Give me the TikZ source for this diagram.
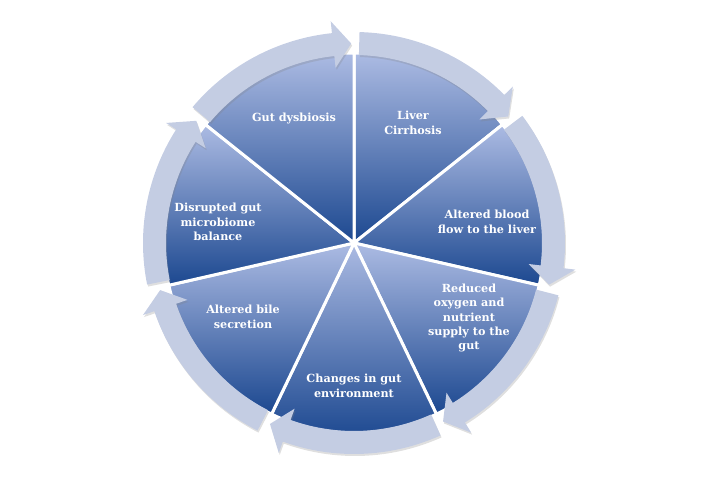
\documentclass[tikz,border=0pt]{standalone}
\usepackage{fontspec}
\usepackage{tikz}
\usetikzlibrary{shadows}
\newfontfamily\labelfont{DejaVu Serif}
\definecolor{sectortop}{RGB}{172,187,227}
\definecolor{sectorbottom}{RGB}{28,72,144}
\definecolor{ringfill}{RGB}{196,205,227}
\tikzset{
sector/.style={top color=sectortop, bottom color=sectorbottom, draw=white, line width=3pt, line join=round}, % pie pieces
ring arrow/.style={fill=ringfill, drop shadow={opacity=0.25, shadow xshift=1pt, shadow yshift=-2pt}}, % curved arrows round the pie
label/.style={text=white, font=\labelfont\bfseries\fontsize{11.2}{14.4}\selectfont, align=center}, % texts in the pieces
}
% curved arrow from angle #1 clockwise to angle #2
\newcommand{\cyclearrow}[2]{%
  \path[ring arrow] (#1-1.5:188pt) -- (#1-1.5:211pt)
    arc[start angle=#1-1.5, end angle=#2+6, radius=211pt]
    -- (#2+6:223pt) -- (#2+0.8:199.5pt) -- (#2+6:176pt) -- (#2+6:188pt)
    arc[start angle=#2+6, end angle=#1-1.5, radius=188pt] -- cycle;}

\begin{document}
\begin{tikzpicture}[x=1pt, y=1pt]
    \useasboundingbox (-354,-254) rectangle (352,243);
    \foreach \i in {0,...,6} {
      \pgfmathsetmacro{\a}{90-\i*360/7}
      \pgfmathsetmacro{\b}{90-(\i+1)*360/7}
      \shadedraw[sector] (0,0) -- (\a:190pt) arc[start angle=\a, end angle=\b, radius=190pt] -- cycle;
    }
    \foreach \i in {0,...,6} {
      \pgfmathsetmacro{\a}{90-\i*360/7}
      \pgfmathsetmacro{\b}{90-(\i+1)*360/7}
      \cyclearrow{\a}{\b}
    }
    \node[label] (cirrhosis) at (59,120) {Liver\\Cirrhosis};
    \node[label] (bloodflow) at (133,21) {Altered blood\\flow to the liver};
    \node[label] (oxygen) at (115,-75) {Reduced\\oxygen and\\nutrient\\supply to the\\gut};
    \node[label] (environment) at (0,-143) {Changes in gut\\environment};
    \node[label] (bile) at (-111,-74) {Altered bile\\secretion};
    \node[label] (microbiome) at (-136,21) {Disrupted gut\\microbiome\\balance};
    \node[label] (dysbiosis) at (-60,125) {Gut dysbiosis};
  \end{tikzpicture}
\end{document}
